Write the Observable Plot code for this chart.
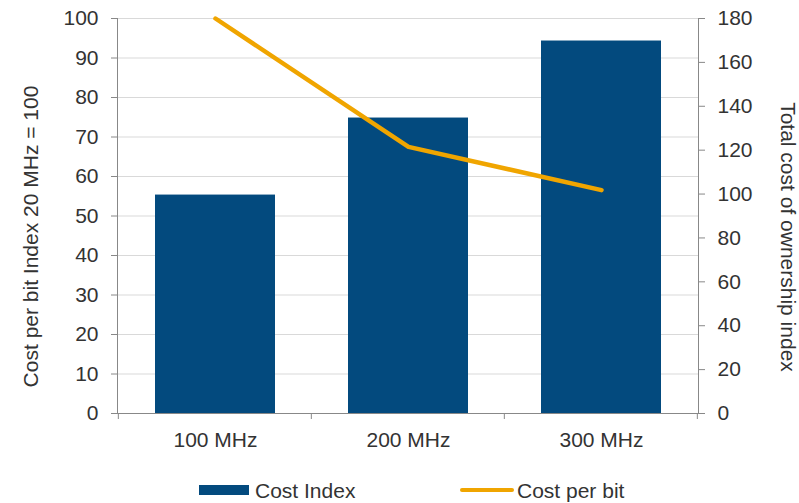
<!DOCTYPE html>
<html>
<head>
<meta charset="utf-8">
<script src="https://cdn.jsdelivr.net/npm/d3@7"></script>
<script src="https://cdn.jsdelivr.net/npm/@observablehq/plot@0.6"></script>
<style>
  body { margin: 0; background: #fff; font-family: "Liberation Sans", Arial, sans-serif; }
  #chart { width: 799px; }
  .legend { position: relative; height: 33px; font-size: 21px; line-height: 21px; color: #333; }
  .legend .item { position: absolute; top: 10px; display: flex; align-items: center; }
  .legend .sw-bar { width: 50px; height: 10px; background: #034a7e; margin-right: 6px; position: relative; top: -1px; }
  .legend .sw-line { width: 54px; height: 4px; border-radius: 2px; background: #f0a500; margin-right: 3px; position: relative; top: -1px; }
</style>
</head>
<body>
<div id="chart"></div>
<script>
const categories = ["100 MHz", "200 MHz", "300 MHz"];
const costIndex = [55.3, 74.8, 94.3];
const costPerBit = [180, 121.5, 101.8];
const leftTicks = [0, 10, 20, 30, 40, 50, 60, 70, 80, 90, 100];
const rightTicks = [0, 20, 40, 60, 80, 100, 120, 140, 160, 180];
const leftTitle = "Cost per bit Index 20 MHz = 100";
const rightTitle = "Total cost of ownership index";

const rightMax = 180, leftMax = 100;
const toLeft = v => v * leftMax / rightMax;

const bars = categories.map((c, i) => ({cat: c, value: costIndex[i]}));
const line = categories.map((c, i) => ({cat: c, value: toLeft(costPerBit[i])}));

const FS = 21;
const chart = Plot.plot({
  width: 799,
  height: 470,
  marginLeft: 117,
  marginRight: 101,
  marginTop: 18,
  marginBottom: 57,
  style: {fontFamily: "Liberation Sans, Arial, sans-serif", fontSize: FS + "px", color: "#333"},
  x: {domain: categories, paddingInner: 0.38, paddingOuter: 0.19, label: null},
  y: {domain: [0, 100], label: null},
  marks: [
    Plot.gridY(leftTicks, {stroke: "#d9d9d9", strokeOpacity: 1, strokeWidth: 1}),
    Plot.barY(bars, {x: "cat", y: "value", fill: "#034a7e"}),
    Plot.line(line, {x: "cat", y: "value", stroke: "#f0a500", strokeWidth: 4.5, strokeLinecap: "round", strokeLinejoin: "round"}),
    Plot.axisY(leftTicks, {anchor: "left", tickSize: 6, tickPadding: 13, stroke: "#888", fill: "#333", fontSize: FS, label: null}),
    Plot.axisY(rightTicks, {y: d => toLeft(d), anchor: "right", tickSize: 6, tickPadding: 13, tickFormat: d => d, stroke: "#888", fill: "#333", fontSize: FS, label: null}),
    Plot.frame({anchor: "left", stroke: "#888"}),
    Plot.frame({anchor: "right", stroke: "#888"}),
    Plot.frame({anchor: "bottom", stroke: "#888"}),
    Plot.axisX({tickSize: 0, tickPadding: 19, fill: "#333", fontSize: FS, label: null}),
    Plot.text([leftTitle], {frameAnchor: "left", textAnchor: "middle", dx: -86, dy: 20.5, rotate: -90, fill: "#333", fontSize: FS}),
    Plot.text([rightTitle], {frameAnchor: "right", textAnchor: "middle", dx: 89, dy: 21, rotate: 90, fill: "#333", fontSize: FS})
  ]
});
document.getElementById("chart").append(chart);

// x tick marks at band boundaries
{
  const sx = chart.scale("x");
  const svg = d3.select(chart);
  const step = sx.step;
  const start = sx.apply(categories[0]) - step * 0.19;
  const ys = 413;
  for (let k = 0; k <= categories.length; k++) {
    const xx = start + k * step;
    svg.append("line").attr("x1", xx).attr("x2", xx).attr("y1", ys).attr("y2", ys + 6)
      .attr("stroke", "#888");
  }
}

const legend = document.createElement("div");
legend.className = "legend";
legend.innerHTML = `<div class="item" style="left:199px"><div class="sw-bar"></div><span>Cost Index</span></div>
<div class="item" style="left:460px"><div class="sw-line"></div><span>Cost per bit</span></div>`;
document.body.append(legend);
</script>
</body>
</html>
